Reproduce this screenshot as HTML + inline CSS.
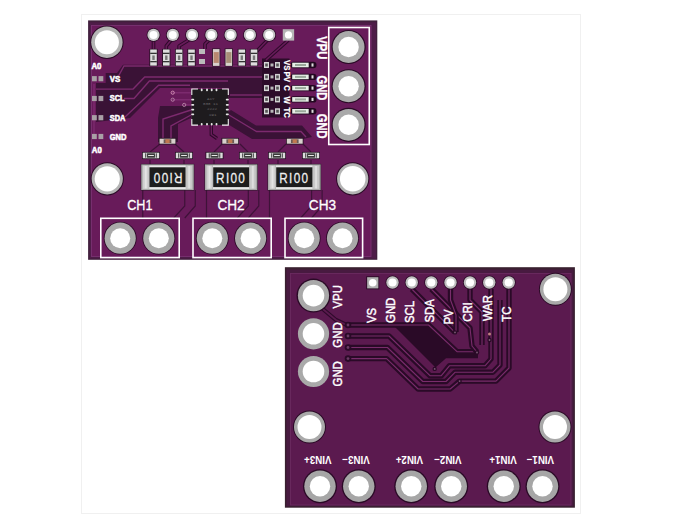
<!DOCTYPE html><html><head><meta charset="utf-8"><style>html,body{margin:0;padding:0;background:#fff;width:691px;height:520px;overflow:hidden}svg{display:block;font-family:"Liberation Sans",sans-serif}</style></head><body>
<svg width="691" height="520" viewBox="0 0 691 520">
<rect x="0" y="0" width="691" height="520" fill="#fff"/>
<rect x="81.5" y="14.5" width="499" height="499" fill="none" stroke="#f0f0f0" stroke-width="1"/>
<rect x="88.1" y="20.4" width="289.2" height="239.4" fill="#40203c"/>
<rect x="89.6" y="22.2" width="286.4" height="236.4" fill="#4e1c48"/>
<rect x="91.5" y="25.5" width="279.5" height="231" fill="#681b5a"/>
<rect x="91.5" y="25.5" width="279.5" height="231" fill="none" stroke="#7a3272" stroke-width="0.9"/>
<path d="M96,83 L105.7,83 L105.7,73 L117,73 L123,64.8 L264,64.8 L264,98 L229,98 L229,88 L160,88 L130,118 L96,122 Z" fill="#3a1236"/>
<path d="M160,106 L191,106 L191,118 L178,124 L178,142 L158,142 L158,118 Z" fill="#3a1236"/>
<path d="M231,110 L256,125.5 L302,125.5 L312,137 L303,139 L252,139 L226,123 L226,114 Z" fill="#3a1236"/>
<path d="M262,58.5 L289.5,58.5 L289.5,117.5 L262,117.5 Z" fill="#2c0c29"/>
<path d="M142,126 L160,126 L190,132 L250,132 L265,140 L142,140 Z" fill="#3a1236" opacity="0.0"/>
<path d="M118,77 L124,66 L262,66" fill="none" stroke="#7c2a6e" stroke-width="1.4"/>
<path d="M124,98.5 L134,98.5 L149.4,81 L228,81" fill="none" stroke="#7c2a6e" stroke-width="1.4"/>
<path d="M125,117 L158.6,85.3 L190,85.3" fill="none" stroke="#7c2a6e" stroke-width="1.4"/>
<path d="M96,89.1 L133.1,89.1 L144.7,77 L262,77" fill="none" stroke="#7c2a6e" stroke-width="1.4"/>
<path d="M94,84 L94,135" fill="none" stroke="#7c2a6e" stroke-width="1.4"/>
<path d="M230,95 L262,95" fill="none" stroke="#7c2a6e" stroke-width="1.4"/>
<path d="M172,92.7 L191,92.7 M172,99.7 L191,99.7 M184,104.9 L191,104.9" fill="none" stroke="#7c2a6e" stroke-width="1.4"/>
<path d="M191,110 L163,119 L163,140 M191,115 L171,126 L171,140" fill="none" stroke="#7c2a6e" stroke-width="1.4"/>
<path d="M229,115 L256.5,131.5 L301,131.5 L306,137" fill="none" stroke="#7c2a6e" stroke-width="1.4"/>
<path d="M211.3,125 L211.3,134.5 L217,138.5" fill="none" stroke="#2e0a2a" stroke-width="3.4"/><path d="M211.3,125 L211.3,134.5 L217,138.5" fill="none" stroke="#681b5a" stroke-width="1.4"/>
<path d="M160,144 L150,152 M175,144 L184,152 M222,144 L214,152 M240,144 L248,152 M286,144 L278,152 M303,144 L311,152" fill="none" stroke="#3e1238" stroke-width="1.2"/>
<path d="M150,160 L150,165 M184,160 L184,165 M214,160 L214,165 M248,160 L248,165 M278,160 L278,165 M311,160 L311,165" fill="none" stroke="#3e1238" stroke-width="1.2"/>
<path d="M142.75,190 L142.75,218 M184.75,190 L184.75,206 L173.75,218" fill="none" stroke="#3e1238" stroke-width="1.2"/>
<path d="M195.25,190 L195.25,206 L184.75,218" fill="none" stroke="#3e1238" stroke-width="1.2"/>
<path d="M206.5,190 L206.5,218 M248.3,190 L248.3,206 L237.3,218" fill="none" stroke="#3e1238" stroke-width="1.2"/>
<path d="M258.8,190 L258.8,206 L248.3,218" fill="none" stroke="#3e1238" stroke-width="1.2"/>
<path d="M269.5,190 L269.5,218 M311.6,190 L311.6,206 L300.6,218" fill="none" stroke="#3e1238" stroke-width="1.2"/>
<path d="M322.1,190 L322.1,206 L311.6,218" fill="none" stroke="#3e1238" stroke-width="1.2"/>
<path d="M288.5,41 L262,65" fill="none" stroke="#3e1238" stroke-width="1.2"/>
<circle cx="172.7" cy="92.7" r="1.6" fill="none" stroke="#e0a0c0" stroke-width="0.8"/>
<circle cx="172.7" cy="99.7" r="1.6" fill="none" stroke="#c090b0" stroke-width="0.8"/>
<circle cx="184.2" cy="104.9" r="1.6" fill="none" stroke="#c090b0" stroke-width="0.8"/>
<rect x="191.5" y="89" width="37" height="36" fill="#1e1b1e"/>
<path d="M191.8,95 L191.8,89 L198,89 M222,89 L228.3,89 L228.3,95 M228.3,119 L228.3,125.1 L222,125.1 M198,125.1 L191.8,125.1 L191.8,119" fill="none" stroke="#f0f0f0" stroke-width="1.1"/>
<rect x="191.2" y="98.69999999999999" width="3" height="1.8" rx="0.8" fill="#e6e6e6"/><rect x="225.8" y="98.69999999999999" width="3" height="1.8" rx="0.8" fill="#e6e6e6"/>
<rect x="191.2" y="104.0" width="3" height="1.8" rx="0.8" fill="#e6e6e6"/><rect x="225.8" y="104.0" width="3" height="1.8" rx="0.8" fill="#e6e6e6"/>
<rect x="191.2" y="108.69999999999999" width="3" height="1.8" rx="0.8" fill="#e6e6e6"/><rect x="225.8" y="108.69999999999999" width="3" height="1.8" rx="0.8" fill="#e6e6e6"/>
<rect x="191.2" y="113.5" width="3" height="1.8" rx="0.8" fill="#e6e6e6"/><rect x="225.8" y="113.5" width="3" height="1.8" rx="0.8" fill="#e6e6e6"/>
<rect x="200.79999999999998" y="88.6" width="1.8" height="2.6" rx="0.8" fill="#e6e6e6"/><rect x="200.79999999999998" y="122.9" width="1.8" height="2.6" rx="0.8" fill="#e6e6e6"/>
<rect x="206.1" y="88.6" width="1.8" height="2.6" rx="0.8" fill="#e6e6e6"/><rect x="206.1" y="122.9" width="1.8" height="2.6" rx="0.8" fill="#e6e6e6"/>
<rect x="210.79999999999998" y="88.6" width="1.8" height="2.6" rx="0.8" fill="#e6e6e6"/><rect x="210.79999999999998" y="122.9" width="1.8" height="2.6" rx="0.8" fill="#e6e6e6"/>
<rect x="215.6" y="88.6" width="1.8" height="2.6" rx="0.8" fill="#e6e6e6"/><rect x="215.6" y="122.9" width="1.8" height="2.6" rx="0.8" fill="#e6e6e6"/>
<text x="207" y="99.5" font-size="4.2" font-family="Liberation Mono" fill="#6a666a">A1Y</text>
<text x="203" y="104.8" font-size="4.2" font-family="Liberation Mono" fill="#6a666a">038 11</text>
<text x="207" y="110.3" font-size="4.2" font-family="Liberation Mono" fill="#6a666a">2222</text>
<text x="209" y="115.8" font-size="4.2" font-family="Liberation Mono" fill="#6a666a">X91</text>
<path d="M153.5,38 L153.5,49" fill="none" stroke="#2e0a2a" stroke-width="3.6" stroke-linejoin="round"/><path d="M153.5,38 L153.5,49" fill="none" stroke="#681b5a" stroke-width="1.6" stroke-linejoin="round"/>
<path d="M172.8,38 L166.3,46 L166.3,49" fill="none" stroke="#2e0a2a" stroke-width="3.6" stroke-linejoin="round"/><path d="M172.8,38 L166.3,46 L166.3,49" fill="none" stroke="#681b5a" stroke-width="1.6" stroke-linejoin="round"/>
<path d="M192,38 L179.1,46 L179.1,49" fill="none" stroke="#2e0a2a" stroke-width="3.6" stroke-linejoin="round"/><path d="M192,38 L179.1,46 L179.1,49" fill="none" stroke="#681b5a" stroke-width="1.6" stroke-linejoin="round"/>
<path d="M211,38 L205,44 L205,49" fill="none" stroke="#2e0a2a" stroke-width="3.6" stroke-linejoin="round"/><path d="M211,38 L205,44 L205,49" fill="none" stroke="#681b5a" stroke-width="1.6" stroke-linejoin="round"/>
<path d="M269.5,38 L256,52 L256,64" fill="none" stroke="#2e0a2a" stroke-width="3.6" stroke-linejoin="round"/><path d="M269.5,38 L256,52 L256,64" fill="none" stroke="#681b5a" stroke-width="1.6" stroke-linejoin="round"/>
<path d="M288.5,40 L266,60" fill="none" stroke="#2e0a2a" stroke-width="3.6" stroke-linejoin="round"/><path d="M288.5,40 L266,60" fill="none" stroke="#681b5a" stroke-width="1.6" stroke-linejoin="round"/>
<circle cx="153.5" cy="34.9" r="6.8999999999999995" fill="#2a0a26"/><circle cx="153.5" cy="34.9" r="6.1" fill="#c4c4c4"/><circle cx="153.5" cy="34.9" r="4.0" fill="#ffffff"/>
<circle cx="172.78" cy="34.9" r="6.8999999999999995" fill="#2a0a26"/><circle cx="172.78" cy="34.9" r="6.1" fill="#c4c4c4"/><circle cx="172.78" cy="34.9" r="4.0" fill="#ffffff"/>
<circle cx="192.06" cy="34.9" r="6.8999999999999995" fill="#2a0a26"/><circle cx="192.06" cy="34.9" r="6.1" fill="#c4c4c4"/><circle cx="192.06" cy="34.9" r="4.0" fill="#ffffff"/>
<circle cx="211.34" cy="34.9" r="6.8999999999999995" fill="#2a0a26"/><circle cx="211.34" cy="34.9" r="6.1" fill="#c4c4c4"/><circle cx="211.34" cy="34.9" r="4.0" fill="#ffffff"/>
<circle cx="230.62" cy="34.9" r="6.8999999999999995" fill="#2a0a26"/><circle cx="230.62" cy="34.9" r="6.1" fill="#c4c4c4"/><circle cx="230.62" cy="34.9" r="4.0" fill="#ffffff"/>
<circle cx="249.9" cy="34.9" r="6.8999999999999995" fill="#2a0a26"/><circle cx="249.9" cy="34.9" r="6.1" fill="#c4c4c4"/><circle cx="249.9" cy="34.9" r="4.0" fill="#ffffff"/>
<circle cx="269.18" cy="34.9" r="6.8999999999999995" fill="#2a0a26"/><circle cx="269.18" cy="34.9" r="6.1" fill="#c4c4c4"/><circle cx="269.18" cy="34.9" r="4.0" fill="#ffffff"/>
<rect x="282.76000000000005" y="29.2" width="11.4" height="11.4" fill="#b5b5b5"/><circle cx="288.46000000000004" cy="34.9" r="3.6" fill="#fff"/>
<rect x="149.4" y="48.9" width="8.2" height="17.300000000000004" fill="#241022"/><rect x="150.20000000000002" y="49.5" width="6.6" height="16.100000000000005" fill="#dedede"/><rect x="150.20000000000002" y="52.706" width="6.6" height="1.3" fill="#333"/><rect x="150.20000000000002" y="61.010000000000005" width="6.6" height="1.3" fill="#333"/><rect x="152.3" y="55.474000000000004" width="2.4" height="4.498000000000001" fill="#777"/>
<rect x="162.20000000000002" y="48.9" width="8.2" height="17.300000000000004" fill="#241022"/><rect x="163.00000000000003" y="49.5" width="6.6" height="16.100000000000005" fill="#dedede"/><rect x="163.00000000000003" y="52.706" width="6.6" height="1.3" fill="#333"/><rect x="163.00000000000003" y="61.010000000000005" width="6.6" height="1.3" fill="#333"/><rect x="165.10000000000002" y="55.474000000000004" width="2.4" height="4.498000000000001" fill="#777"/>
<rect x="175.0" y="48.9" width="8.2" height="17.300000000000004" fill="#241022"/><rect x="175.8" y="49.5" width="6.6" height="16.100000000000005" fill="#dedede"/><rect x="175.8" y="52.706" width="6.6" height="1.3" fill="#333"/><rect x="175.8" y="61.010000000000005" width="6.6" height="1.3" fill="#333"/><rect x="177.9" y="55.474000000000004" width="2.4" height="4.498000000000001" fill="#777"/>
<rect x="187.4" y="48.9" width="8.2" height="17.300000000000004" fill="#241022"/><rect x="188.20000000000002" y="49.5" width="6.6" height="16.100000000000005" fill="#dedede"/><rect x="188.20000000000002" y="52.706" width="6.6" height="1.3" fill="#333"/><rect x="188.20000000000002" y="61.010000000000005" width="6.6" height="1.3" fill="#333"/><rect x="190.3" y="55.474000000000004" width="2.4" height="4.498000000000001" fill="#777"/>
<rect x="199" y="49" width="6" height="5" fill="#bbb"/><rect x="199" y="59" width="6" height="5" fill="#bbb"/>
<rect x="212.1" y="48.5" width="8.2" height="18.0" fill="#241022"/><rect x="212.9" y="49.1" width="6.6" height="16.8" fill="#d8d0cc"/><rect x="213.6" y="52.1" width="5.199999999999999" height="10.799999999999999" fill="#b88870"/>
<rect x="224.70000000000002" y="48.5" width="8.2" height="18.0" fill="#241022"/><rect x="225.50000000000003" y="49.1" width="6.6" height="16.8" fill="#d8d4cc"/><rect x="226.20000000000002" y="52.1" width="5.199999999999999" height="10.799999999999999" fill="#a89078"/>
<rect x="237.70000000000002" y="48.9" width="8.2" height="17.300000000000004" fill="#241022"/><rect x="238.50000000000003" y="49.5" width="6.6" height="16.100000000000005" fill="#dedede"/><rect x="238.50000000000003" y="52.706" width="6.6" height="1.3" fill="#333"/><rect x="238.50000000000003" y="61.010000000000005" width="6.6" height="1.3" fill="#333"/><rect x="240.60000000000002" y="55.474000000000004" width="2.4" height="4.498000000000001" fill="#777"/>
<rect x="249.9" y="48.9" width="8.2" height="17.300000000000004" fill="#241022"/><rect x="250.70000000000002" y="49.5" width="6.6" height="16.100000000000005" fill="#dedede"/><rect x="250.70000000000002" y="52.706" width="6.6" height="1.3" fill="#333"/><rect x="250.70000000000002" y="61.010000000000005" width="6.6" height="1.3" fill="#333"/><rect x="252.8" y="55.474000000000004" width="2.4" height="4.498000000000001" fill="#777"/>
<rect x="328.75" y="27.5" width="40.5" height="117" fill="none" stroke="#fff" stroke-width="1.6"/>
<circle cx="348.6" cy="47" r="17.1" fill="#2a0a26"/><circle cx="348.6" cy="47" r="15.9" fill="#a9a9a9"/><circle cx="348.6" cy="47" r="10.2" fill="#ffffff"/>
<circle cx="348.6" cy="86.25" r="17.1" fill="#2a0a26"/><circle cx="348.6" cy="86.25" r="15.9" fill="#a9a9a9"/><circle cx="348.6" cy="86.25" r="10.2" fill="#ffffff"/>
<circle cx="348.6" cy="124.8" r="17.1" fill="#2a0a26"/><circle cx="348.6" cy="124.8" r="15.9" fill="#a9a9a9"/><circle cx="348.6" cy="124.8" r="10.2" fill="#ffffff"/>
<g transform="translate(317.3,36.3) rotate(90) scale(0.8,1)"><text x="0" y="0" font-size="14" font-weight="bold" text-anchor="start" fill="#fff" stroke="#fff" stroke-width="0.35" >VPU</text></g>
<g transform="translate(317.3,75.5) rotate(90) scale(0.8,1)"><text x="0" y="0" font-size="14" font-weight="bold" text-anchor="start" fill="#fff" stroke="#fff" stroke-width="0.35" >GND</text></g>
<g transform="translate(317.3,113.7) rotate(90) scale(0.8,1)"><text x="0" y="0" font-size="14" font-weight="bold" text-anchor="start" fill="#fff" stroke="#fff" stroke-width="0.35" >GND</text></g>
<circle cx="106.9" cy="42.2" r="16.7" fill="#2a0a26"/><circle cx="106.9" cy="42.2" r="15.7" fill="#b3b3b3"/><circle cx="106.9" cy="42.2" r="12" fill="#ffffff"/>
<circle cx="107.25" cy="178.8" r="16.6" fill="#2a0a26"/><circle cx="107.25" cy="178.8" r="15.6" fill="#b3b3b3"/><circle cx="107.25" cy="178.8" r="12.6" fill="#ffffff"/>
<circle cx="352.7" cy="178.8" r="16.6" fill="#2a0a26"/><circle cx="352.7" cy="178.8" r="15.6" fill="#b3b3b3"/><circle cx="352.7" cy="178.8" r="12.8" fill="#ffffff"/>
<g transform="translate(91.5,68.8) rotate(0) scale(0.95,1)"><text x="0" y="0" font-size="8.2" font-weight="bold" text-anchor="start" fill="#fff" stroke="#fff" stroke-width="0.55" >A0</text></g>
<g transform="translate(109.7,81.5) rotate(0) scale(0.92,1)"><text x="0" y="0" font-size="8.6" font-weight="bold" text-anchor="start" fill="#fff" stroke="#fff" stroke-width="0.55" >VS</text></g>
<g transform="translate(109.7,101.3) rotate(0) scale(0.86,1)"><text x="0" y="0" font-size="8.6" font-weight="bold" text-anchor="start" fill="#fff" stroke="#fff" stroke-width="0.55" >SCL</text></g>
<g transform="translate(109.7,121) rotate(0) scale(0.86,1)"><text x="0" y="0" font-size="8.6" font-weight="bold" text-anchor="start" fill="#fff" stroke="#fff" stroke-width="0.55" >SDA</text></g>
<g transform="translate(109.7,139.5) rotate(0) scale(0.88,1)"><text x="0" y="0" font-size="8.6" font-weight="bold" text-anchor="start" fill="#fff" stroke="#fff" stroke-width="0.55" >GND</text></g>
<g transform="translate(91.8,152.5) rotate(0) scale(0.95,1)"><text x="0" y="0" font-size="8.2" font-weight="bold" text-anchor="start" fill="#fff" stroke="#fff" stroke-width="0.55" >A0</text></g>
<rect x="92" y="76.10000000000001" width="4.8" height="5.2" fill="#a9a0a6"/><rect x="98.5" y="76.10000000000001" width="4.8" height="5.2" fill="#a9a0a6"/>
<rect x="92" y="95.9" width="4.8" height="5.2" fill="#a9a0a6"/><rect x="98.5" y="95.9" width="4.8" height="5.2" fill="#a9a0a6"/>
<rect x="92" y="115.10000000000001" width="4.8" height="5.2" fill="#a9a0a6"/><rect x="98.5" y="115.10000000000001" width="4.8" height="5.2" fill="#a9a0a6"/>
<rect x="92" y="133.9" width="4.8" height="5.2" fill="#a9a0a6"/><rect x="98.5" y="133.9" width="4.8" height="5.2" fill="#a9a0a6"/>
<rect x="264" y="62" width="5" height="6" fill="#d8d8d8"/><rect x="265.2" y="63.5" width="2.6" height="3" fill="#555"/>
<rect x="270.5" y="63.5" width="3" height="3" fill="#b8b8b8"/>
<rect x="275" y="62" width="5" height="6" fill="#d0d0d0"/><rect x="276.2" y="63.5" width="2.6" height="3" fill="#555"/>
<rect x="290.5" y="61.8" width="26" height="6.4" rx="3.2" fill="#220820"/>
<rect x="292.2" y="62.7" width="16.5" height="4.6" fill="#e6eee6"/>
<rect x="295" y="64" width="11" height="2" fill="#9aa89a"/>
<rect x="311.5" y="63.4" width="2" height="3.2" fill="#ddd"/>
<rect x="264" y="73.9" width="5" height="6" fill="#d8d8d8"/><rect x="265.2" y="75.4" width="2.6" height="3" fill="#555"/>
<rect x="270.5" y="75.4" width="3" height="3" fill="#b8b8b8"/>
<rect x="275" y="73.9" width="5" height="6" fill="#d0d0d0"/><rect x="276.2" y="75.4" width="2.6" height="3" fill="#555"/>
<rect x="290.5" y="73.7" width="26" height="6.4" rx="3.2" fill="#220820"/>
<rect x="292.2" y="74.60000000000001" width="16.5" height="4.6" fill="#e6eee6"/>
<rect x="295" y="75.9" width="11" height="2" fill="#9aa89a"/>
<rect x="311.5" y="75.30000000000001" width="2" height="3.2" fill="#ddd"/>
<rect x="264" y="85.1" width="5" height="6" fill="#d8d8d8"/><rect x="265.2" y="86.6" width="2.6" height="3" fill="#555"/>
<rect x="270.5" y="86.6" width="3" height="3" fill="#b8b8b8"/>
<rect x="275" y="85.1" width="5" height="6" fill="#d0d0d0"/><rect x="276.2" y="86.6" width="2.6" height="3" fill="#555"/>
<rect x="290.5" y="84.89999999999999" width="26" height="6.4" rx="3.2" fill="#220820"/>
<rect x="292.2" y="85.8" width="16.5" height="4.6" fill="#e6eee6"/>
<rect x="295" y="87.1" width="11" height="2" fill="#9aa89a"/>
<rect x="311.5" y="86.5" width="2" height="3.2" fill="#ddd"/>
<rect x="264" y="96.4" width="5" height="6" fill="#d8d8d8"/><rect x="265.2" y="97.9" width="2.6" height="3" fill="#555"/>
<rect x="270.5" y="97.9" width="3" height="3" fill="#b8b8b8"/>
<rect x="275" y="96.4" width="5" height="6" fill="#d0d0d0"/><rect x="276.2" y="97.9" width="2.6" height="3" fill="#555"/>
<rect x="290.5" y="96.2" width="26" height="6.4" rx="3.2" fill="#220820"/>
<rect x="292.2" y="97.10000000000001" width="16.5" height="4.6" fill="#e6eee6"/>
<rect x="295" y="98.4" width="11" height="2" fill="#9aa89a"/>
<rect x="311.5" y="97.80000000000001" width="2" height="3.2" fill="#ddd"/>
<rect x="264" y="108.25" width="5" height="6" fill="#d8d8d8"/><rect x="265.2" y="109.75" width="2.6" height="3" fill="#555"/>
<rect x="270.5" y="109.75" width="3" height="3" fill="#b8b8b8"/>
<rect x="275" y="108.25" width="5" height="6" fill="#d0d0d0"/><rect x="276.2" y="109.75" width="2.6" height="3" fill="#555"/>
<rect x="290.5" y="108.05" width="26" height="6.4" rx="3.2" fill="#220820"/>
<rect x="292.2" y="108.95" width="16.5" height="4.6" fill="#e6eee6"/>
<rect x="295" y="110.25" width="11" height="2" fill="#9aa89a"/>
<rect x="311.5" y="109.65" width="2" height="3.2" fill="#ddd"/>
<g transform="translate(284.2,60) rotate(90) scale(0.82,1)"><text x="0" y="0" font-size="9.5" font-weight="bold" text-anchor="start" fill="#fff" stroke="#fff" stroke-width="0.2" >VS</text></g>
<g transform="translate(284.2,71.5) rotate(90) scale(0.82,1)"><text x="0" y="0" font-size="9.5" font-weight="bold" text-anchor="start" fill="#fff" stroke="#fff" stroke-width="0.2" >PV</text></g>
<g transform="translate(284.2,85.3) rotate(90) scale(0.82,1)"><text x="0" y="0" font-size="9.5" font-weight="bold" text-anchor="start" fill="#fff" stroke="#fff" stroke-width="0.2" >C</text></g>
<g transform="translate(284.2,96.5) rotate(90) scale(0.82,1)"><text x="0" y="0" font-size="9.5" font-weight="bold" text-anchor="start" fill="#fff" stroke="#fff" stroke-width="0.2" >W</text></g>
<g transform="translate(284.2,107.5) rotate(90) scale(0.82,1)"><text x="0" y="0" font-size="9.5" font-weight="bold" text-anchor="start" fill="#fff" stroke="#fff" stroke-width="0.2" >TC</text></g>
<rect x="158.75" y="137.89999999999998" width="17.5" height="6.6" fill="#241022"/><rect x="159.55" y="138.7" width="15.9" height="5.0" fill="#d8d0cc"/><rect x="163.65" y="139.29999999999998" width="7.7" height="3.8" fill="#6a5a55"/><rect x="165.4" y="139.29999999999998" width="4.2" height="3.8" fill="#c07850"/>
<rect x="221.5" y="137.89999999999998" width="17.5" height="6.6" fill="#241022"/><rect x="222.3" y="138.7" width="15.9" height="5.0" fill="#d8d0cc"/><rect x="226.4" y="139.29999999999998" width="7.7" height="3.8" fill="#6a5a55"/><rect x="228.15" y="139.29999999999998" width="4.2" height="3.8" fill="#c07850"/>
<rect x="286" y="137.89999999999998" width="17.5" height="6.6" fill="#241022"/><rect x="286.8" y="138.7" width="15.9" height="5.0" fill="#d8d0cc"/><rect x="290.9" y="139.29999999999998" width="7.7" height="3.8" fill="#6a5a55"/><rect x="292.65" y="139.29999999999998" width="4.2" height="3.8" fill="#c07850"/>
<rect x="142" y="151.9" width="18" height="7.2" fill="#241022"/><rect x="142.8" y="152.70000000000002" width="16.4" height="5.6" fill="#dcdcdc"/><rect x="147.04" y="153.3" width="7.92" height="4.4" fill="#3a3a3a"/><rect x="148.12" y="155.0" width="5.76" height="1" fill="#e8e8e8"/><rect x="145.24" y="153.3" width="1" height="4.4" fill="#333"/><rect x="155.76" y="153.3" width="1" height="4.4" fill="#333"/>
<rect x="175" y="151.9" width="18" height="7.2" fill="#241022"/><rect x="175.8" y="152.70000000000002" width="16.4" height="5.6" fill="#dcdcdc"/><rect x="180.04" y="153.3" width="7.92" height="4.4" fill="#3a3a3a"/><rect x="181.12" y="155.0" width="5.76" height="1" fill="#e8e8e8"/><rect x="178.24" y="153.3" width="1" height="4.4" fill="#333"/><rect x="188.76" y="153.3" width="1" height="4.4" fill="#333"/>
<rect x="205.5" y="151.9" width="18.0" height="7.2" fill="#241022"/><rect x="206.3" y="152.70000000000002" width="16.4" height="5.6" fill="#dcdcdc"/><rect x="210.54" y="153.3" width="7.92" height="4.4" fill="#3a3a3a"/><rect x="211.62" y="155.0" width="5.76" height="1" fill="#e8e8e8"/><rect x="208.74" y="153.3" width="1" height="4.4" fill="#333"/><rect x="219.26" y="153.3" width="1" height="4.4" fill="#333"/>
<rect x="239" y="151.9" width="18" height="7.2" fill="#241022"/><rect x="239.8" y="152.70000000000002" width="16.4" height="5.6" fill="#dcdcdc"/><rect x="244.04" y="153.3" width="7.92" height="4.4" fill="#3a3a3a"/><rect x="245.12" y="155.0" width="5.76" height="1" fill="#e8e8e8"/><rect x="242.24" y="153.3" width="1" height="4.4" fill="#333"/><rect x="252.76" y="153.3" width="1" height="4.4" fill="#333"/>
<rect x="268" y="151.9" width="18" height="7.2" fill="#241022"/><rect x="268.8" y="152.70000000000002" width="16.4" height="5.6" fill="#dcdcdc"/><rect x="273.04" y="153.3" width="7.92" height="4.4" fill="#3a3a3a"/><rect x="274.12" y="155.0" width="5.76" height="1" fill="#e8e8e8"/><rect x="271.24" y="153.3" width="1" height="4.4" fill="#333"/><rect x="281.76" y="153.3" width="1" height="4.4" fill="#333"/>
<rect x="302" y="151.9" width="18" height="7.2" fill="#241022"/><rect x="302.8" y="152.70000000000002" width="16.4" height="5.6" fill="#dcdcdc"/><rect x="307.04" y="153.3" width="7.92" height="4.4" fill="#3a3a3a"/><rect x="308.12" y="155.0" width="5.76" height="1" fill="#e8e8e8"/><rect x="305.24" y="153.3" width="1" height="4.4" fill="#333"/><rect x="315.76" y="153.3" width="1" height="4.4" fill="#333"/>
<rect x="140.75" y="163.9" width="53.5" height="26.6" fill="#2a1a28"/>
<rect x="141.25" y="164.4" width="52.5" height="25.6" fill="#a8a8a8"/>
<rect x="142.75" y="165.5" width="6" height="23.4" fill="#cfcfcf"/><rect x="144.75" y="166" width="2" height="22.4" fill="#e4e4e4"/>
<rect x="186.25" y="165.5" width="6" height="23.4" fill="#c8c8c8"/><rect x="188.25" y="166" width="2" height="22.4" fill="#dedede"/>
<rect x="149.25" y="165.4" width="36.5" height="23.6" fill="#e8e8e8"/>
<rect x="149.45" y="167.3" width="36.1" height="19.8" fill="#1d1d1d"/>
<g transform="translate(167.5,178.2) rotate(180) scale(0.84,1)"><text x="0" y="5.1" font-size="14" font-weight="normal" text-anchor="middle" fill="#f0f0f0" stroke="#f0f0f0" stroke-width="0.25" letter-spacing="1.6">RI00</text></g>
<rect x="204.5" y="163.9" width="53.30000000000001" height="26.6" fill="#2a1a28"/>
<rect x="205" y="164.4" width="52.30000000000001" height="25.6" fill="#a8a8a8"/>
<rect x="206.5" y="165.5" width="6" height="23.4" fill="#cfcfcf"/><rect x="208.5" y="166" width="2" height="22.4" fill="#e4e4e4"/>
<rect x="249.8" y="165.5" width="6" height="23.4" fill="#c8c8c8"/><rect x="251.8" y="166" width="2" height="22.4" fill="#dedede"/>
<rect x="213" y="165.4" width="36.30000000000001" height="23.6" fill="#e8e8e8"/>
<rect x="213.2" y="167.3" width="35.90000000000001" height="19.8" fill="#1d1d1d"/>
<g transform="translate(231.15,178.2) rotate(0) scale(0.84,1)"><text x="0" y="5.1" font-size="14" font-weight="normal" text-anchor="middle" fill="#f0f0f0" stroke="#f0f0f0" stroke-width="0.25" letter-spacing="1.6">RI00</text></g>
<rect x="267.5" y="163.9" width="53.60000000000002" height="26.6" fill="#2a1a28"/>
<rect x="268" y="164.4" width="52.60000000000002" height="25.6" fill="#a8a8a8"/>
<rect x="269.5" y="165.5" width="6" height="23.4" fill="#cfcfcf"/><rect x="271.5" y="166" width="2" height="22.4" fill="#e4e4e4"/>
<rect x="313.1" y="165.5" width="6" height="23.4" fill="#c8c8c8"/><rect x="315.1" y="166" width="2" height="22.4" fill="#dedede"/>
<rect x="276" y="165.4" width="36.60000000000002" height="23.6" fill="#e8e8e8"/>
<rect x="276.2" y="167.3" width="36.200000000000024" height="19.8" fill="#1d1d1d"/>
<g transform="translate(294.3,178.2) rotate(0) scale(0.84,1)"><text x="0" y="5.1" font-size="14" font-weight="normal" text-anchor="middle" fill="#f0f0f0" stroke="#f0f0f0" stroke-width="0.25" letter-spacing="1.6">RI00</text></g>
<g transform="translate(127.3,210.2) rotate(0) scale(0.85,1)"><text x="0" y="0" font-size="14.8" font-weight="normal" text-anchor="start" fill="#fff" stroke="#fff" stroke-width="0.3" >CH1</text></g>
<g transform="translate(217.4,210.2) rotate(0) scale(0.92,1)"><text x="0" y="0" font-size="14.8" font-weight="normal" text-anchor="start" fill="#fff" stroke="#fff" stroke-width="0.3" >CH2</text></g>
<g transform="translate(308.8,210.2) rotate(0) scale(0.92,1)"><text x="0" y="0" font-size="14.8" font-weight="normal" text-anchor="start" fill="#fff" stroke="#fff" stroke-width="0.3" >CH3</text></g>
<rect x="100.8" y="218.3" width="78.39999999999999" height="39.3" fill="none" stroke="#fff" stroke-width="1.6"/>
<circle cx="120.2" cy="238.2" r="16.4" fill="#2a0a26"/><circle cx="120.2" cy="238.2" r="15.6" fill="#a9a9a9"/><circle cx="120.2" cy="238.2" r="10.0" fill="#ffffff"/>
<circle cx="158.8" cy="238.2" r="16.4" fill="#2a0a26"/><circle cx="158.8" cy="238.2" r="15.6" fill="#a9a9a9"/><circle cx="158.8" cy="238.2" r="10.0" fill="#ffffff"/>
<rect x="193" y="218.3" width="78.19999999999999" height="39.3" fill="none" stroke="#fff" stroke-width="1.6"/>
<circle cx="212.3" cy="238.2" r="16.4" fill="#2a0a26"/><circle cx="212.3" cy="238.2" r="15.6" fill="#a9a9a9"/><circle cx="212.3" cy="238.2" r="10.0" fill="#ffffff"/>
<circle cx="250.6" cy="238.2" r="16.4" fill="#2a0a26"/><circle cx="250.6" cy="238.2" r="15.6" fill="#a9a9a9"/><circle cx="250.6" cy="238.2" r="10.0" fill="#ffffff"/>
<rect x="285" y="218.3" width="77.60000000000002" height="39.3" fill="none" stroke="#fff" stroke-width="1.6"/>
<circle cx="304.2" cy="238.2" r="16.4" fill="#2a0a26"/><circle cx="304.2" cy="238.2" r="15.6" fill="#a9a9a9"/><circle cx="304.2" cy="238.2" r="10.0" fill="#ffffff"/>
<circle cx="342.5" cy="238.2" r="16.4" fill="#2a0a26"/><circle cx="342.5" cy="238.2" r="15.6" fill="#a9a9a9"/><circle cx="342.5" cy="238.2" r="10.0" fill="#ffffff"/>
<rect x="284.9" y="267.2" width="290" height="240.5" fill="#38202f"/>
<rect x="286.4" y="269.5" width="287" height="236.7" fill="#481a40"/>
<rect x="290.5" y="273.5" width="280.5" height="231.5" fill="#5b1a4f"/>
<rect x="290.5" y="273.5" width="280.5" height="231.5" fill="none" stroke="#6c2a60" stroke-width="0.9"/>
<path d="M393,325 L428.6,325 L457,351.7 L478,351.7 L478,358.3 L446,358.3 L435.5,367.6 Z" fill="#2a0a27"/>
<path d="M348,325 L428.6,325 L457,351.7 L477,351.7" fill="none" stroke="#2a0a27" stroke-width="5.4" stroke-linejoin="round"/><path d="M348,325 L428.6,325 L457,351.7 L477,351.7" fill="none" stroke="#7a2c6c" stroke-width="1.1" stroke-linejoin="round"/>
<path d="M348,336 L389,336 L430,375.7 L441.3,375.7 L449.4,365.8 L485,365.8 L491,359 L491,289" fill="none" stroke="#2a0a27" stroke-width="5.4" stroke-linejoin="round"/><path d="M348,336 L389,336 L430,375.7 L441.3,375.7 L449.4,365.8 L485,365.8 L491,359 L491,289" fill="none" stroke="#7a2c6c" stroke-width="1.1" stroke-linejoin="round"/>
<path d="M348,347.5 L387.4,347.5 L422.8,381.5 L446,381.5 L455.2,372.2 L493,372.2 L500,365 L500,300" fill="none" stroke="#2a0a27" stroke-width="5.4" stroke-linejoin="round"/><path d="M348,347.5 L387.4,347.5 L422.8,381.5 L446,381.5 L455.2,372.2 L493,372.2 L500,365 L500,300" fill="none" stroke="#7a2c6c" stroke-width="1.1" stroke-linejoin="round"/>
<path d="M348,358.6 L386.6,358.6 L418.1,389 L450.2,389 L459.6,381.1 L496,381.1 L509,368 L509,289" fill="none" stroke="#2a0a27" stroke-width="5.4" stroke-linejoin="round"/><path d="M348,358.6 L386.6,358.6 L418.1,389 L450.2,389 L459.6,381.1 L496,381.1 L509,368 L509,289" fill="none" stroke="#7a2c6c" stroke-width="1.1" stroke-linejoin="round"/>
<path d="M411.75,289 L455,332.4" fill="none" stroke="#2a0a27" stroke-width="5.4" stroke-linejoin="round"/><path d="M411.75,289 L455,332.4" fill="none" stroke="#7a2c6c" stroke-width="1.1" stroke-linejoin="round"/>
<path d="M431.25,289 L470,328 L472,346 L477,352" fill="none" stroke="#2a0a27" stroke-width="5.4" stroke-linejoin="round"/><path d="M431.25,289 L470,328 L472,346 L477,352" fill="none" stroke="#7a2c6c" stroke-width="1.1" stroke-linejoin="round"/>
<path d="M450.5,289 L450.5,300 L456,315 L456,332" fill="none" stroke="#2a0a27" stroke-width="5.4" stroke-linejoin="round"/><path d="M450.5,289 L450.5,300 L456,315 L456,332" fill="none" stroke="#7a2c6c" stroke-width="1.1" stroke-linejoin="round"/>
<path d="M470,289 L470,300 L482,312 L482,345" fill="none" stroke="#2a0a27" stroke-width="5.4" stroke-linejoin="round"/><path d="M470,289 L470,300 L482,312 L482,345" fill="none" stroke="#7a2c6c" stroke-width="1.1" stroke-linejoin="round"/>
<path d="M318,305 L336,320 L346,324.6" fill="none" stroke="#2e0a2a" stroke-width="4.2"/><path d="M318,305 L336,320 L346,324.6" fill="none" stroke="#5b1a4f" stroke-width="1.8"/>
<circle cx="348" cy="325" r="3.3" fill="#2a0a27"/><circle cx="348" cy="325" r="1.4" fill="#6a3a64"/>
<circle cx="348" cy="336" r="3.3" fill="#2a0a27"/><circle cx="348" cy="336" r="1.4" fill="#6a3a64"/>
<circle cx="348" cy="347.5" r="3.3" fill="#2a0a27"/><circle cx="348" cy="347.5" r="1.4" fill="#6a3a64"/>
<circle cx="348" cy="358.6" r="3.3" fill="#2a0a27"/><circle cx="348" cy="358.6" r="1.4" fill="#6a3a64"/>
<circle cx="455" cy="332.4" r="2.2" fill="#2a0a27"/><circle cx="455" cy="332.4" r="0.9" fill="#7a5a74"/>
<circle cx="477" cy="352.5" r="2.2" fill="#2a0a27"/><circle cx="477" cy="352.5" r="0.9" fill="#7a5a74"/>
<circle cx="459.6" cy="381.1" r="2.2" fill="#2a0a27"/><circle cx="459.6" cy="381.1" r="0.9" fill="#7a5a74"/>
<circle cx="489.5" cy="340" r="2.2" fill="#2a0a27"/><circle cx="489.5" cy="340" r="0.9" fill="#7a5a74"/>
<circle cx="434.7" cy="368.9" r="2.2" fill="#2a0a27"/><circle cx="434.7" cy="368.9" r="0.9" fill="#7a5a74"/>
<circle cx="489.5" cy="334" r="1.5" fill="#c08080"/>
<circle cx="313.5" cy="295.6" r="17.0" fill="#2a0a26"/><circle cx="313.5" cy="295.6" r="15.6" fill="#a9a9a9"/><circle cx="313.5" cy="295.6" r="10.8" fill="#ffffff"/>
<circle cx="313.5" cy="333.8" r="15.6" fill="#a9a9a9"/><circle cx="313.5" cy="333.8" r="10.8" fill="#ffffff"/>
<circle cx="313.5" cy="371.5" r="15.6" fill="#a9a9a9"/><circle cx="313.5" cy="371.5" r="10.8" fill="#ffffff"/>
<circle cx="309.5" cy="427" r="16.5" fill="#2a0a26"/><circle cx="309.5" cy="427" r="15.5" fill="#a9a9a9"/><circle cx="309.5" cy="427" r="12.0" fill="#ffffff"/>
<circle cx="555.4" cy="289.2" r="16.5" fill="#2a0a26"/><circle cx="555.4" cy="289.2" r="15.5" fill="#a9a9a9"/><circle cx="555.4" cy="289.2" r="12.0" fill="#ffffff"/>
<circle cx="555" cy="427" r="16.5" fill="#2a0a26"/><circle cx="555" cy="427" r="15.5" fill="#a9a9a9"/><circle cx="555" cy="427" r="12.0" fill="#ffffff"/>
<rect x="366.25" y="276.3" width="13" height="13" fill="#2a0a26"/><rect x="367.15" y="277.2" width="11.2" height="11.2" fill="#b0b0b0"/><circle cx="372.75" cy="282.8" r="3.8" fill="#fff"/>
<circle cx="392.5" cy="282.5" r="7.0" fill="#2a0a26"/><circle cx="392.5" cy="282.5" r="6.2" fill="#bdbdbd"/><circle cx="392.5" cy="282.5" r="4.1" fill="#ffffff"/>
<circle cx="411.75" cy="282.5" r="7.0" fill="#2a0a26"/><circle cx="411.75" cy="282.5" r="6.2" fill="#bdbdbd"/><circle cx="411.75" cy="282.5" r="4.1" fill="#ffffff"/>
<circle cx="431.25" cy="282.5" r="7.0" fill="#2a0a26"/><circle cx="431.25" cy="282.5" r="6.2" fill="#bdbdbd"/><circle cx="431.25" cy="282.5" r="4.1" fill="#ffffff"/>
<circle cx="450.5" cy="282.5" r="7.0" fill="#2a0a26"/><circle cx="450.5" cy="282.5" r="6.2" fill="#bdbdbd"/><circle cx="450.5" cy="282.5" r="4.1" fill="#ffffff"/>
<circle cx="470" cy="282.5" r="7.0" fill="#2a0a26"/><circle cx="470" cy="282.5" r="6.2" fill="#bdbdbd"/><circle cx="470" cy="282.5" r="4.1" fill="#ffffff"/>
<circle cx="489.25" cy="282.5" r="7.0" fill="#2a0a26"/><circle cx="489.25" cy="282.5" r="6.2" fill="#bdbdbd"/><circle cx="489.25" cy="282.5" r="4.1" fill="#ffffff"/>
<circle cx="508.75" cy="282.5" r="7.0" fill="#2a0a26"/><circle cx="508.75" cy="282.5" r="6.2" fill="#bdbdbd"/><circle cx="508.75" cy="282.5" r="4.1" fill="#ffffff"/>
<g transform="translate(375.8,323) rotate(-90) scale(0.84,1)"><text x="0" y="0" font-size="13.6" font-weight="normal" text-anchor="start" fill="#fff" stroke="#fff" stroke-width="0.45" >VS</text></g>
<g transform="translate(394.90000000000003,323) rotate(-90) scale(0.84,1)"><text x="0" y="0" font-size="13.6" font-weight="normal" text-anchor="start" fill="#fff" stroke="#fff" stroke-width="0.45" >GND</text></g>
<g transform="translate(414.0,323) rotate(-90) scale(0.84,1)"><text x="0" y="0" font-size="13.6" font-weight="normal" text-anchor="start" fill="#fff" stroke="#fff" stroke-width="0.45" >SCL</text></g>
<g transform="translate(433.8,322.6) rotate(-90) scale(0.84,1)"><text x="0" y="0" font-size="13.6" font-weight="normal" text-anchor="start" fill="#fff" stroke="#fff" stroke-width="0.45" >SDA</text></g>
<g transform="translate(453.3,324.5) rotate(-90) scale(0.84,1)"><text x="0" y="0" font-size="13.6" font-weight="normal" text-anchor="start" fill="#fff" stroke="#fff" stroke-width="0.45" >PV</text></g>
<g transform="translate(472.1,321.8) rotate(-90) scale(0.84,1)"><text x="0" y="0" font-size="13.6" font-weight="normal" text-anchor="start" fill="#fff" stroke="#fff" stroke-width="0.45" >CRI</text></g>
<g transform="translate(491.7,321.1) rotate(-90) scale(0.84,1)"><text x="0" y="0" font-size="13.6" font-weight="normal" text-anchor="start" fill="#fff" stroke="#fff" stroke-width="0.45" >WAR</text></g>
<g transform="translate(511.2,321.8) rotate(-90) scale(0.84,1)"><text x="0" y="0" font-size="13.6" font-weight="normal" text-anchor="start" fill="#fff" stroke="#fff" stroke-width="0.45" >TC</text></g>
<g transform="translate(341.8,308.5) rotate(-90) scale(0.84,1)"><text x="0" y="0" font-size="13.6" font-weight="normal" text-anchor="start" fill="#fff" stroke="#fff" stroke-width="0.45" >VPU</text></g>
<g transform="translate(341.8,347.7) rotate(-90) scale(0.84,1)"><text x="0" y="0" font-size="13.6" font-weight="normal" text-anchor="start" fill="#fff" stroke="#fff" stroke-width="0.45" >GND</text></g>
<g transform="translate(341.8,386.5) rotate(-90) scale(0.84,1)"><text x="0" y="0" font-size="13.6" font-weight="normal" text-anchor="start" fill="#fff" stroke="#fff" stroke-width="0.45" >GND</text></g>
<circle cx="320" cy="486.25" r="17.0" fill="#2a0a26"/><circle cx="320" cy="486.25" r="15.7" fill="#a6a6a6"/><circle cx="320" cy="486.25" r="10.2" fill="#ffffff"/>
<circle cx="358.75" cy="486.25" r="17.0" fill="#2a0a26"/><circle cx="358.75" cy="486.25" r="15.7" fill="#a6a6a6"/><circle cx="358.75" cy="486.25" r="10.2" fill="#ffffff"/>
<circle cx="411.25" cy="486.25" r="17.0" fill="#2a0a26"/><circle cx="411.25" cy="486.25" r="15.7" fill="#a6a6a6"/><circle cx="411.25" cy="486.25" r="10.2" fill="#ffffff"/>
<circle cx="451.25" cy="486.25" r="17.0" fill="#2a0a26"/><circle cx="451.25" cy="486.25" r="15.7" fill="#a6a6a6"/><circle cx="451.25" cy="486.25" r="10.2" fill="#ffffff"/>
<circle cx="503.75" cy="486.25" r="17.0" fill="#2a0a26"/><circle cx="503.75" cy="486.25" r="15.7" fill="#a6a6a6"/><circle cx="503.75" cy="486.25" r="10.2" fill="#ffffff"/>
<circle cx="542.5" cy="486.25" r="17.0" fill="#2a0a26"/><circle cx="542.5" cy="486.25" r="15.7" fill="#a6a6a6"/><circle cx="542.5" cy="486.25" r="10.2" fill="#ffffff"/>
<g transform="translate(317.8,459.5) rotate(180) scale(0.93,1)"><text x="0" y="3.8" font-size="10.5" font-weight="bold" text-anchor="middle" fill="#fff">VIN3+</text></g>
<g transform="translate(356.1,459.5) rotate(180) scale(0.93,1)"><text x="0" y="3.8" font-size="10.5" font-weight="bold" text-anchor="middle" fill="#fff">VIN3−</text></g>
<g transform="translate(409.4,459.5) rotate(180) scale(0.93,1)"><text x="0" y="3.8" font-size="10.5" font-weight="bold" text-anchor="middle" fill="#fff">VIN2+</text></g>
<g transform="translate(447.9,459.5) rotate(180) scale(0.93,1)"><text x="0" y="3.8" font-size="10.5" font-weight="bold" text-anchor="middle" fill="#fff">VIN2−</text></g>
<g transform="translate(503.1,459.5) rotate(180) scale(0.93,1)"><text x="0" y="3.8" font-size="10.5" font-weight="bold" text-anchor="middle" fill="#fff">VIN1+</text></g>
<g transform="translate(540.4,459.5) rotate(180) scale(0.93,1)"><text x="0" y="3.8" font-size="10.5" font-weight="bold" text-anchor="middle" fill="#fff">VIN1−</text></g>
</svg></body></html>
